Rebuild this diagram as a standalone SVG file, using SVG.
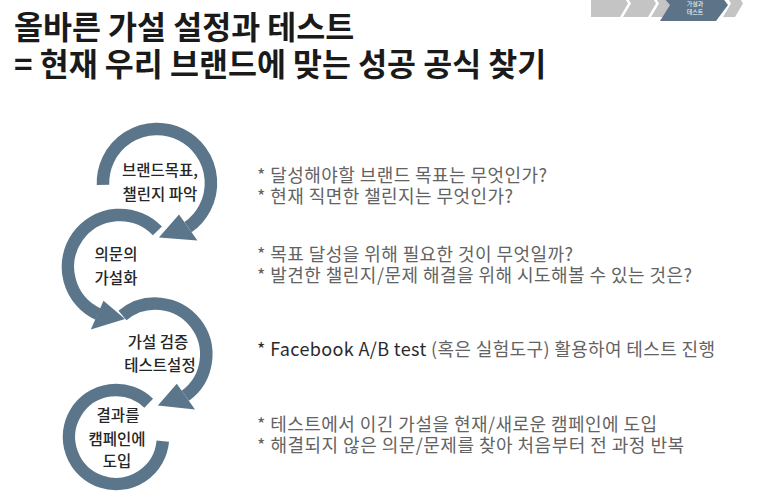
<svg xmlns="http://www.w3.org/2000/svg" width="760" height="502" viewBox="0 0 760 502">
<style>
.title{font-family:"Noto Sans CJK KR","Noto Sans",sans-serif;font-size:31.5px;font-weight:bold;fill:#1a1a1a}
.lbl{font-family:"Noto Sans CJK KR","Noto Sans",sans-serif;font-size:15.5px;font-weight:500;fill:#262626;text-anchor:middle}
.desc{font-family:"Noto Sans CJK KR","Noto Sans",sans-serif;font-size:18px;fill:#636363}
.dark{fill:#2a2a2a}
.arc{fill:none;stroke:#5b768b;stroke-width:12.5}
.head{fill:#5b768b}
.chev{fill:#c4c4c4}
.tiny{font-family:"Noto Sans CJK KR",sans-serif;font-size:6px;fill:#ffffff;text-anchor:middle}
</style>
<rect width="760" height="502" fill="#ffffff"/>
<g id="progress">
<polygon class="chev" points="591,-10 620,-10 628,3.5 620,17 591,17"/>
<polygon class="chev" points="623,-10 648,-10 656,3.5 648,17 623,17 631,3.5"/>
<polygon class="chev" points="651,-10 676,-10 684,3.5 676,17 651,17 659,3.5"/>
<polygon class="chev" points="723,-10 735,-10 743,3.5 735,17 723,17 731,3.5"/>
<polygon fill="#5d7488" points="656,-11 716,-11 728,5 716,21 660,21 670,5"/>
<text class="tiny" x="695" y="6">가설과</text>
<text class="tiny" x="695" y="14">테스트</text>
</g>
<g id="title">
<text class="title" x="14" y="39">올바른 가설 설정과 테스트</text>
<text class="title" x="14" y="76">= 현재 우리 브랜드에 맞는 성공 공식 찾기</text>
</g>
<g id="connectors">
<path class="arc" d="M103.0 184.9 A54 54 0 1 1 188.0 227.2"/>
<polygon class="head" points="179.0,214.5 197.4,240.5 158.9,237.5"/>
<path class="arc" d="M157.4 230.9 A52 52 0 1 0 98.0 314.1"/>
<polygon class="head" points="103.5,300.8 90.8,329.4 125,319"/>
<path class="arc" d="M122.5 315.5 A51 51 0 1 1 185.3 395.8"/>
<polygon class="head" points="176.8,383.7 195.0,409.6 157.8,405.5"/>
<path class="arc" d="M148.7 403.2 A47 47 0 1 0 162.8 441.1"/>
</g>
<g id="node1">
<text class="lbl" x="160" y="176">브랜드목표,</text>
<text class="lbl" x="160" y="200">챌린지 파악</text>
<text class="desc" x="257" y="182" textLength="290" lengthAdjust="spacing">* 달성해야할 브랜드 목표는 무엇인가?</text>
<text class="desc" x="257" y="203" textLength="256" lengthAdjust="spacing">* 현재 직면한 챌린지는 무엇인가?</text>
</g>
<g id="node2">
<text class="lbl" x="116" y="260">의문의</text>
<text class="lbl" x="116" y="284">가설화</text>
<text class="desc" x="257" y="261" textLength="316" lengthAdjust="spacing">* 목표 달성을 위해 필요한 것이 무엇일까?</text>
<text class="desc" x="257" y="282" textLength="435" lengthAdjust="spacing">* 발견한 챌린지/문제 해결을 위해 시도해볼 수 있는 것은?</text>
</g>
<g id="node3">
<text class="lbl" x="158" y="348">가설 검증</text>
<text class="lbl" x="160" y="371">테스트설정</text>
<text class="desc" x="257" y="356" textLength="458" lengthAdjust="spacing"><tspan class="dark">* Facebook A/B test</tspan> (혹은 실험도구) 활용하여 테스트 진행</text>
</g>
<g id="node4">
<text class="lbl" x="118" y="421">결과를</text>
<text class="lbl" x="117" y="445">캠페인에</text>
<text class="lbl" x="117" y="467">도입</text>
<text class="desc" x="257" y="431" textLength="400" lengthAdjust="spacing">* 테스트에서 이긴 가설을 현재/새로운 캠페인에 도입</text>
<text class="desc" x="257" y="452" textLength="427" lengthAdjust="spacing">* 해결되지 않은 의문/문제를 찾아 처음부터 전 과정 반복</text>
</g>
</svg>
